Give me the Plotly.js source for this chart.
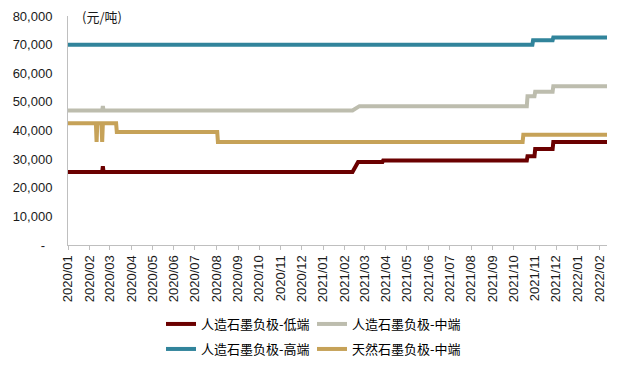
<!DOCTYPE html>
<html>
<head>
<meta charset="utf-8">
<script src="https://cdn.plot.ly/plotly-3.0.1.min.js"></script>
<style>html,body{margin:0;padding:0;background:#fff;}#chart{width:640px;height:370px;}</style>
</head>
<body>
<div id="chart"></div>
<script>
// Series names
var seriesNames = ['人造石墨负极-低端', '人造石墨负极-中端', '人造石墨负极-高端', '天然石墨负极-中端'];

// 人造石墨负极-低端
var lowDates = ['2020-01-01','2020-02-19','2020-02-20','2020-02-21','2021-02-12','2021-02-20','2021-03-27','2021-03-28','2021-10-20','2021-10-21','2021-10-31','2021-11-01','2021-11-26','2021-11-27','2022-02-12'];
var lowValues = [25500,25500,27500,25500,25500,29000,29000,29500,29500,31000,31000,33500,33500,36000,36000];

// 人造石墨负极-中端
var midDates = ['2020-01-01','2020-02-19','2020-02-20','2020-02-21','2021-02-12','2021-02-22','2021-10-20','2021-10-21','2021-10-31','2021-11-01','2021-11-26','2021-11-27','2022-02-12'];
var midValues = [47000,47000,48500,47000,47000,48500,48500,52000,52000,53500,53500,55500,55500];

// 人造石墨负极-高端
var highDates = ['2020-01-01','2021-10-28','2021-10-29','2021-11-26','2021-11-27','2022-02-12'];
var highValues = [70000,70000,71500,71500,72500,72500];

// 天然石墨负极-中端
var natDates = ['2020-01-01','2020-02-10','2020-02-11','2020-02-12','2020-02-18','2020-02-19','2020-02-20','2020-03-10','2020-03-11','2020-08-02','2020-08-03','2021-10-14','2021-10-15','2022-02-12'];
var natValues = [42500,42500,36000,42500,42500,36000,42500,42500,39500,39500,36000,36000,38500,38500];

// Y tick labels
var yTickVals = [0,10000,20000,30000,40000,50000,60000,70000,80000];
var yTickText = ['-\u00a0\u00a0','10,000','20,000','30,000','40,000','50,000','60,000','70,000','80,000'];

var colors = ['#6B0000','#BDBDAE','#31849B','#C6A258'];

var traces = [
  {x: lowDates, y: lowValues, name: seriesNames[0], legend: 'legend'},
  {x: midDates, y: midValues, name: seriesNames[1], legend: 'legend'},
  {x: highDates, y: highValues, name: seriesNames[2], legend: 'legend2'},
  {x: natDates, y: natValues, name: seriesNames[3], legend: 'legend2'}
].map(function(t, i){
  t.type = 'scatter';
  t.mode = 'lines';
  t.line = {color: colors[i], width: 4, shape: 'linear'};
  t.hoverinfo = 'skip';
  return t;
});

var legendFont = {family: '"Noto Sans CJK SC", sans-serif', size: 13, color: '#000'};
function mkLegend(ytop){
  return {
    orientation: 'h', xref: 'container', yref: 'container',
    x: 161/640, y: 1 - ytop/370, xanchor: 'left', yanchor: 'top',
    font: legendFont, entrywidth: 106, entrywidthmode: 'pixels',
    bgcolor: 'rgba(0,0,0,0)', borderwidth: 0, traceorder: 'normal'
  };
}

var layout = {
  width: 640, height: 370,
  margin: {l: 68, r: 33, t: 16, b: 125},
  paper_bgcolor: '#fff', plot_bgcolor: '#fff',
  font: {family: '"Liberation Sans", Arial, sans-serif', size: 13, color: '#1a1a1a'},
  showlegend: true,
  legend: mkLegend(309),
  legend2: mkLegend(334),
  xaxis: {
    type: 'date',
    range: ['2020-01-01', '2022-02-12'],
    tick0: '2020-01-01', dtick: 'M1',
    tickformat: '%Y/%m', tickangle: -90,
    showgrid: false, zeroline: false,
    showline: true, linecolor: '#BFBFBF', linewidth: 1,
    ticks: 'outside', ticklen: 4, tickcolor: '#BFBFBF', tickwidth: 1,
    tickfont: {family: '"Liberation Sans", Arial, sans-serif', size: 13, color: '#1a1a1a'},
    fixedrange: true
  },
  yaxis: {
    range: [0, 80000],
    tickmode: 'array', tickvals: yTickVals, ticktext: yTickText,
    showgrid: false, zeroline: false,
    showline: true, linecolor: '#BFBFBF', linewidth: 1,
    ticks: '', ticklabelstandoff: 12,
    tickfont: {family: '"Liberation Sans", Arial, sans-serif', size: 13, color: '#1a1a1a'},
    fixedrange: true
  },
  annotations: [{
    text: '(元/吨)', xref: 'paper', yref: 'paper', x: 0.022, y: 1.0,
    xanchor: 'left', yanchor: 'middle', showarrow: false,
    font: {family: '"Noto Sans CJK SC", sans-serif', size: 13, color: '#1a1a1a'}
  }]
};

Plotly.newPlot('chart', traces, layout, {staticPlot: true, displayModeBar: false});
</script>
</body>
</html>
